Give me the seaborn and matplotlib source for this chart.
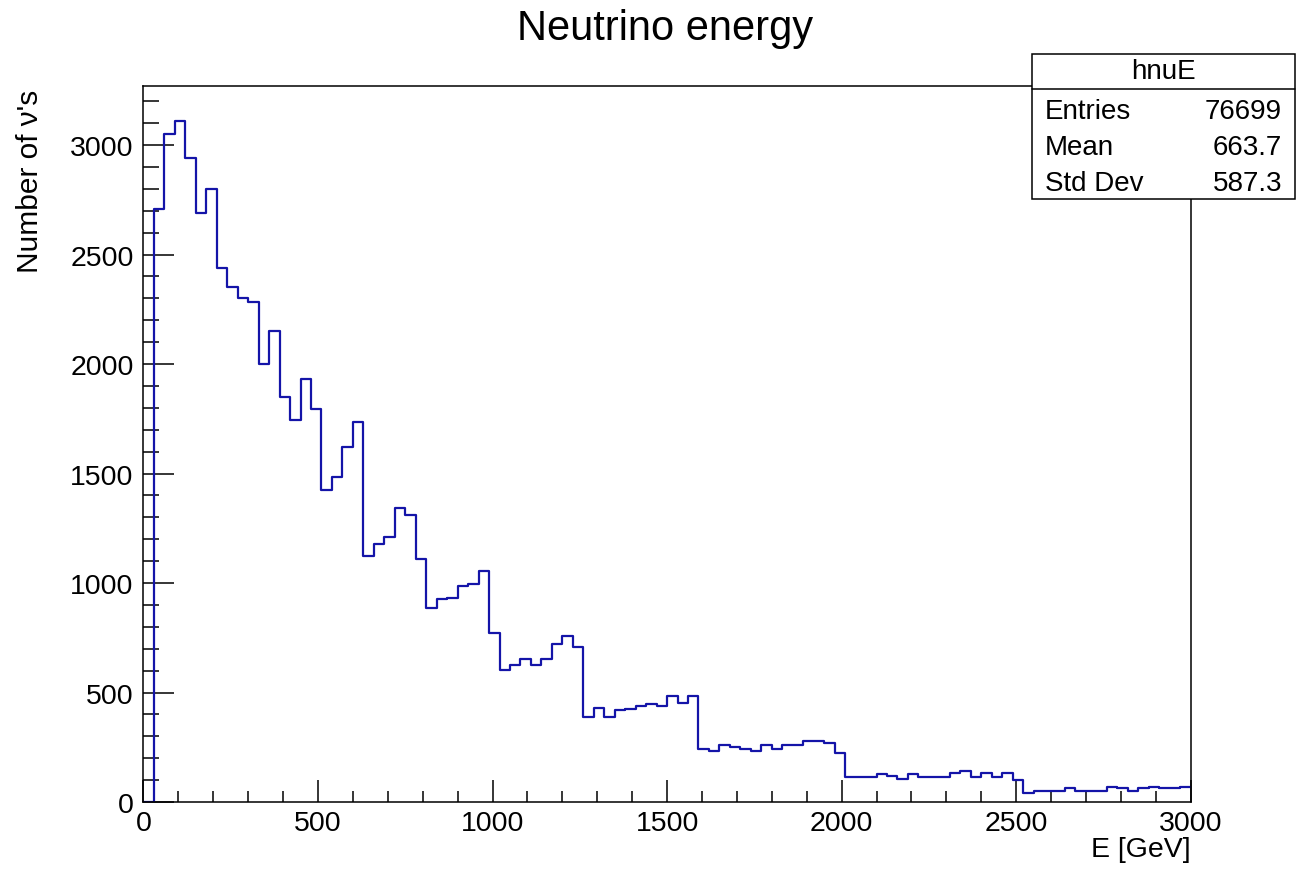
import numpy as np
import pandas as pd
import matplotlib
matplotlib.use("Agg")
import matplotlib.pyplot as plt
from matplotlib.ticker import MultipleLocator
from matplotlib.patches import Rectangle
import seaborn as sns


# histogram contents, 100 bins of 30 GeV from 0 to 3000
bin_width = 30
n_bins = 100
counts = [
    0, 2710, 3050, 3110, 2940, 2690, 2800, 2440, 2350, 2300,
    2285, 2000, 2150, 1850, 1745, 1930, 1795, 1425, 1485, 1620,
    1735, 1125, 1180, 1210, 1345, 1310, 1110, 887, 928, 930,
    988, 997, 1055, 773, 602, 628, 654, 628, 654, 722,
    756, 707, 387, 428, 387, 422, 425, 440, 448, 440,
    483, 451, 483, 242, 233, 259, 251, 242, 233, 259,
    242, 259, 259, 278, 278, 268, 224, 113, 113, 113,
    128, 120, 105, 128, 113, 113, 113, 133, 140, 113,
    133, 113, 133, 102, 40, 49, 49, 49, 63, 49,
    49, 49, 70, 63, 49, 63, 70, 63, 63, 70,
]
stats_labels = ["Entries", "Mean", "Std Dev"]
stats_values = ["76699", "663.7", "587.3"]
hist_name = "hnuE"

centers = np.arange(n_bins) * bin_width + bin_width / 2
df = pd.DataFrame({"E": centers, "n": counts})

sns.set_style("white")
plt.rcParams['font.family'] = ['Liberation Sans', 'DejaVu Sans']
plt.rcParams['text.color'] = 'black'
plt.rcParams['axes.labelcolor'] = 'black'
plt.rcParams['xtick.color'] = 'black'
plt.rcParams['ytick.color'] = 'black'

fig = plt.figure(figsize=(13.09, 8.7), dpi=100)
ax = fig.add_axes([0.1096, 0.077, 0.8000, 0.823])

sns.histplot(data=df, x="E", weights="n", bins=n_bins, binrange=(0, 3000),
             element="step", fill=False, color="#1414a8", linewidth=1.6, ax=ax)

ax.set_xlim(0, 3000)
ax.set_ylim(0, 3270)

for s in ax.spines.values():
    s.set_linewidth(1.1)
    s.set_color("black")

ax.xaxis.set_major_locator(MultipleLocator(500))
ax.xaxis.set_minor_locator(MultipleLocator(100))
ax.yaxis.set_major_locator(MultipleLocator(500))
ax.yaxis.set_minor_locator(MultipleLocator(100))
ax.tick_params(axis='x', which='major', direction='in', length=16, width=1.1,
               labelsize=20.5, pad=6, bottom=True, top=False)
ax.tick_params(axis='x', which='minor', direction='in', length=8, width=1.1,
               bottom=True, top=False)
ax.tick_params(axis='y', which='major', direction='in', length=22, width=1.1,
               labelsize=20.5, pad=7, left=True, right=False)
ax.tick_params(axis='y', which='minor', direction='in', length=11.5, width=1.1,
               left=True, right=False)

ax.set_xlabel("E [GeV]", fontsize=20.5, loc='right')
ax.xaxis.set_label_coords(1.0, -0.048)
ax.set_ylabel("Number of ν's", fontsize=21.5, loc='top')
ax.yaxis.set_label_coords(-0.095, 0.996)

fig.text(0.508, 0.967, "Neutrino energy", fontsize=30, ha='center', va='center')

# stats box
x0, y0, w, h = 1032 / 1309, 1 - 200 / 870, 263 / 1309, 145 / 870
fig.patches.append(Rectangle((x0, y0), w, h, transform=fig.transFigure,
                             facecolor='white', edgecolor='black', linewidth=1.1))
hy = 1 - 90 / 870
fig.add_artist(plt.Line2D([x0, x0 + w], [hy, hy], transform=fig.transFigure,
                          color='black', linewidth=1.1))
fig.text(x0 + w / 2, 1 - 72 / 870, hist_name, fontsize=20, ha='center', va='center')
for i, (lab, val) in enumerate(zip(stats_labels, stats_values)):
    yy = 1 - (112 + 36 * i) / 870
    fig.text(1045 / 1309, yy, lab, fontsize=20, ha='left', va='center')
    fig.text(1282 / 1309, yy, val, fontsize=20, ha='right', va='center')

fig.savefig("out.png", dpi=100)
